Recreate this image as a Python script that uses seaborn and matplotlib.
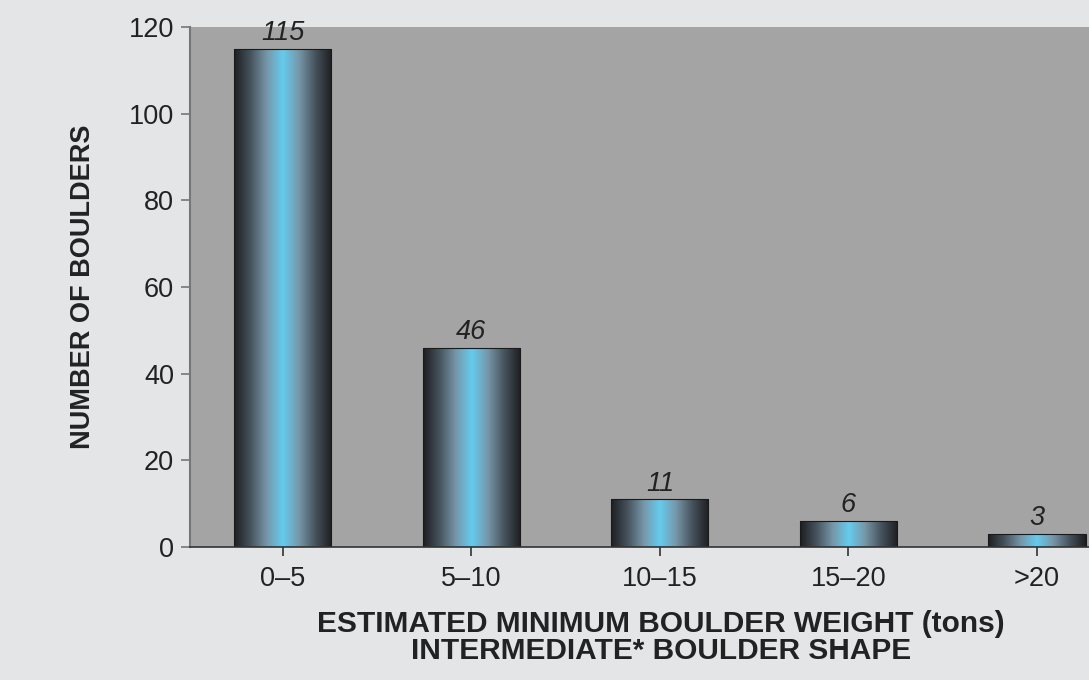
import numpy as np
import pandas as pd
import matplotlib
matplotlib.use('Agg')
import matplotlib.pyplot as plt
import seaborn as sns
from matplotlib.colors import LinearSegmentedColormap

categories = ["0\u20135", "5\u201310", "10\u201315", "15\u201320", ">20"]
counts = [115, 46, 11, 6, 3]
yticks = [0, 20, 40, 60, 80, 100, 120]

df = pd.DataFrame({"weight": categories, "count": counts})

sns.set_theme(style="white")
plt.rcParams['font.family'] = ['Liberation Sans', 'DejaVu Sans']

fig = plt.figure(figsize=(10.89, 6.8), dpi=100, facecolor='#e4e5e7')
ax = fig.add_axes([190 / 1089, 1 - 547 / 680, (1089 - 190) / 1089, 520 / 680])
ax.set_facecolor('#a3a4a3')

sns.barplot(data=df, x="weight", y="count", ax=ax, color='#66ccee',
            width=0.515, edgecolor='#1a1a1a', linewidth=0.8, saturation=1)

# horizontal gradient inside each bar: dark edges, light blue centre
cmap = LinearSegmentedColormap.from_list(
    "bar", ['#1e1e21', '#45525c', '#7696a8', '#66ccee', '#7696a8', '#45525c', '#1e1e21'])
grad = np.linspace(0, 1, 256).reshape(1, -1)
for p in ax.patches:
    x0, y0 = p.get_x(), p.get_y()
    w, h = p.get_width(), p.get_height()
    im = ax.imshow(grad, cmap=cmap, aspect='auto', extent=[x0, x0 + w, y0, y0 + h],
                   zorder=p.get_zorder() + 0.1, interpolation='bicubic')
    im.set_clip_path(p)
    p.set_facecolor('none')
    p.set_zorder(p.get_zorder() + 0.2)

for i, v in enumerate(counts):
    ax.text(i, v + 0.6, str(v), ha='center', va='bottom', fontsize=19.5,
            style='italic', color='#222222')

ax.set_xlim(-0.493, 4.276)
ax.set_ylim(0, 120)
ax.set_yticks(yticks)
ax.tick_params(axis='both', labelsize=19.5, colors='#222222', length=6.5, width=1.2)
ax.tick_params(axis='x', pad=7, color='#333333')
ax.tick_params(axis='y', pad=5, color='#777777')
ax.tick_params(left=True, bottom=True)

for s in ['top', 'right']:
    ax.spines[s].set_visible(False)
ax.spines['left'].set_color('#777777')
ax.spines['left'].set_linewidth(1.5)
ax.spines['bottom'].set_color('#333333')
ax.spines['bottom'].set_linewidth(1.2)

ax.set_ylabel("NUMBER OF BOULDERS", fontsize=19.5, fontweight='bold', color='#222222')
ax.yaxis.set_label_coords(-0.1046, 0.5)
ax.set_xlabel("ESTIMATED MINIMUM BOULDER WEIGHT (tons)\nINTERMEDIATE* BOULDER SHAPE",
              fontsize=21.5, fontweight='bold', color='#222222', linespacing=0.95)
ax.xaxis.set_label_coords((661 - 190) / (1089 - 190), -0.121)

fig.savefig("out.png", dpi=100, facecolor=fig.get_facecolor())
